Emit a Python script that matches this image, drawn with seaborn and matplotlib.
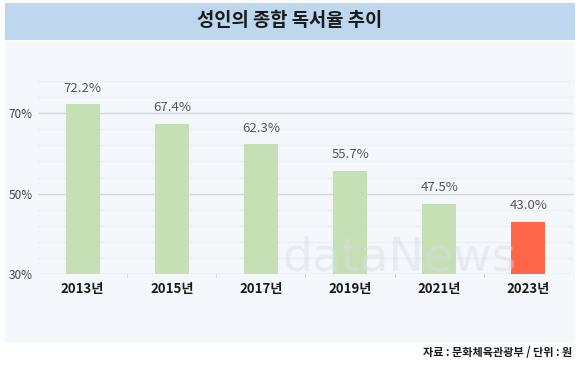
import matplotlib
matplotlib.use("Agg")
import matplotlib.pyplot as plt
from matplotlib.patches import Rectangle
import pandas as pd
import seaborn as sns

years = ["2013년", "2015년", "2017년", "2019년", "2021년", "2023년"]
rates = [72.2, 67.4, 62.3, 55.7, 47.5, 43.0]
bar_colors = ["#C5E0B4", "#C5E0B4", "#C5E0B4", "#C5E0B4", "#C5E0B4", "#FF6647"]
y_ticks = [30, 50, 70]
y_labels = ["30%", "50%", "70%"]

sns.set_theme(style="white")
plt.rcParams["font.family"] = ["Noto Sans CJK KR", "DejaVu Sans"]

df = pd.DataFrame({"year": years, "rate": rates})

fig = plt.figure(figsize=(5.8, 3.67), dpi=100)
fig.patch.set_facecolor("white")

# background panel + title band
fig.patches.append(Rectangle((5 / 580, 1 - 343 / 367), 570 / 580, 301 / 367,
                             transform=fig.transFigure, facecolor="#F4F8FD",
                             edgecolor="none", zorder=-2))
fig.patches.append(Rectangle((5 / 580, 1 - 40 / 367), 570 / 580, 37 / 367,
                             transform=fig.transFigure, facecolor="#BDD7EE",
                             edgecolor="none", zorder=-2))
fig.text(0.5, 1 - 21 / 367, "성인의 종합 독서율 추이", ha="center", va="center",
         fontsize=13.5, fontweight="bold", color="#1a1a1a")

ax = fig.add_axes([38 / 580, 93 / 367, 535 / 580, 193 / 367])
ax.set_facecolor("none")

sns.barplot(data=df, x="year", y="rate", hue="year", palette=bar_colors,
            legend=False, width=0.38, saturation=1, linewidth=0, ax=ax, zorder=3)

ax.set_ylim(30, 78)
ax.set_xlim(-0.5, 5.5)

# grid
for v in range(34, 79, 4):
    if v in y_ticks:
        continue
    ax.axhline(v, color="#ECEDEF", lw=0.8, zorder=1)
for v in y_ticks:
    ax.axhline(v, color="#D6D6D6", lw=1.0, zorder=1)

ax.set_yticks(y_ticks)
ax.set_yticklabels(y_labels, fontsize=8.5, color="#444444")
ax.tick_params(axis="y", length=0, pad=4)
ax.set_xticks(range(len(years)))
ax.set_xticklabels(years, fontsize=9.5, fontweight="bold", color="#1a1a1a")
ax.tick_params(axis="x", length=0, pad=6)
for b in [0.5, 1.5, 2.5, 3.5, 4.5]:
    ax.plot([b, b], [30, 29.3], color="#D6D6D6", lw=0.8, clip_on=False)

for s in ax.spines.values():
    s.set_visible(False)
ax.set_xlabel("")
ax.set_ylabel("")

for i, v in enumerate(rates):
    ax.text(i, v + 2.3, f"{v:.1f}%", ha="center", va="bottom",
            fontsize=9.5, color="#555555", zorder=4)

# watermark
ax.text(3.55, 34, "dataNews", ha="center", va="center", fontsize=34,
        color="#D8DEE6", alpha=0.45, zorder=4, family="DejaVu Sans")

fig.text(572 / 580, 1 - 352 / 367, "자료 : 문화체육관광부 / 단위 : 원",
         ha="right", va="center", fontsize=8, fontweight="bold", color="#1a1a1a")

fig.savefig("out.png", dpi=100, facecolor="white")
